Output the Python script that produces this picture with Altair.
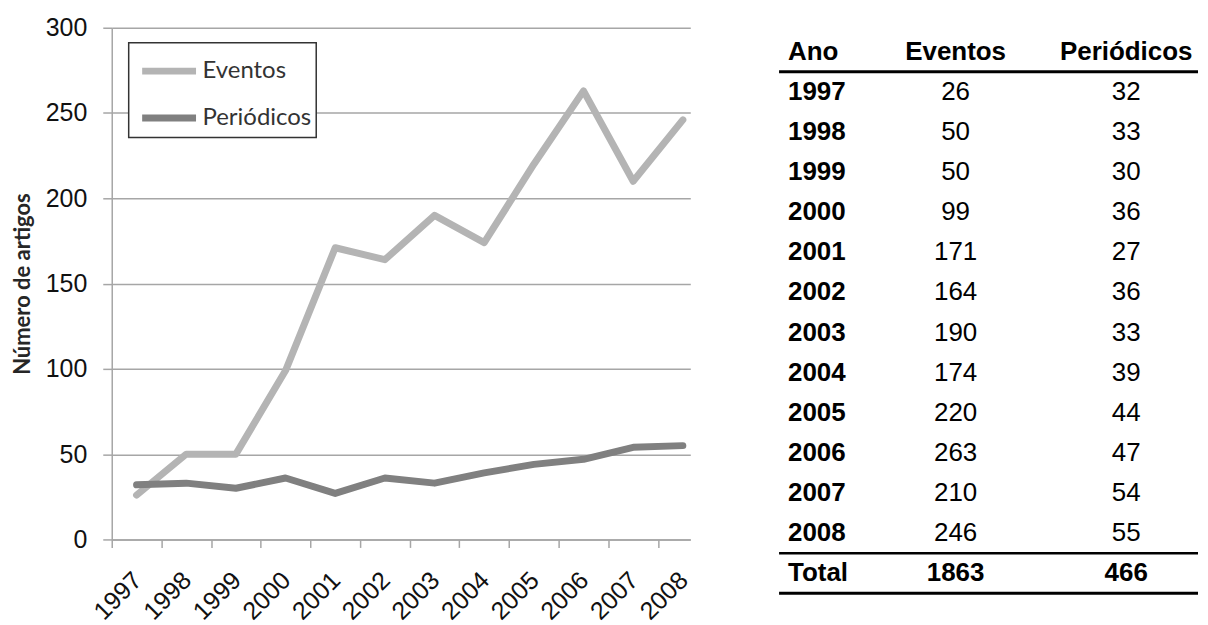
import altair as alt
import pandas as pd

# ---- data ----
years = [1997, 1998, 1999, 2000, 2001, 2002, 2003, 2004, 2005, 2006, 2007, 2008]
eventos = [26, 50, 50, 99, 171, 164, 190, 174, 220, 263, 210, 246]
periodicos = [32, 33, 30, 36, 27, 36, 33, 39, 44, 47, 54, 55]
series_names = ["Eventos", "Periódicos"]
series_colors = ["#b4b4b4", "#808080"]
y_ticks = [0, 50, 100, 150, 200, 250, 300]
y_title = "Número de artigos"
table_columns = ["Ano", "Eventos", "Periódicos"]
total_label = "Total"
total_eventos = 1863
total_periodicos = 466

GRID = "#a6a6a6"
HALF = 580 / 11.65 / 2  # half of one year step in pixels

# ---- line chart ----
long_df = pd.DataFrame({
    "year": years + years,
    "value": eventos + periodicos,
    "series": [series_names[0]] * len(years) + [series_names[1]] * len(years),
})

lines = alt.Chart(long_df).mark_line(
    strokeWidth=7, strokeCap="round", strokeJoin="round"
).encode(
    x=alt.X("year:Q",
            scale=alt.Scale(domain=[1996.5, 2008.15], nice=False, zero=False),
            axis=alt.Axis(values=years, format="d", title=None, grid=False,
                          labelAngle=-45, labelAlign="right", labelBaseline="top",
                          labelOverlap=False,
                          tickOffset=-HALF, labelOffset=HALF - 8,
                          labelPadding=20, tickSize=8,
                          labelFont="Liberation Sans", labelFontSize=25,
                          labelColor="#111111",
                          domainColor=GRID, tickColor=GRID,
                          domainWidth=1.5, tickWidth=1.5)),
    y=alt.Y("value:Q",
            scale=alt.Scale(domain=[0, 300], nice=False, zero=True),
            axis=alt.Axis(values=y_ticks, title=y_title, grid=True,
                          gridColor=GRID, gridWidth=1.5,
                          domainColor=GRID, tickColor=GRID,
                          domainWidth=1.5, tickWidth=1.5, tickSize=9,
                          labelPadding=16, labelFont="Liberation Sans",
                          labelFontSize=25, labelColor="#111111",
                          titleFont="Lato", titleFontSize=22, titleFontWeight="bold",
                          titleColor="#262626", titlePadding=11)),
    color=alt.Color("series:N",
                    scale=alt.Scale(domain=series_names, range=series_colors),
                    legend=alt.Legend(orient="none", legendX=17, legendY=15,
                                      title=None, symbolType="M-1.35,0H1.35",
                                      symbolSize=1600, symbolStrokeWidth=7,
                                      labelFont="Lato", labelFontSize=24,
                                      labelColor="#333333", labelOffset=10,
                                      strokeColor="#333333", fillColor="white",
                                      padding=5, rowPadding=9, symbolOffset=12,
                                      direction="vertical")),
).properties(width=580, height=513)

# ---- table ----
rows = [table_columns[0]] + [str(y) for y in years] + [total_label]
row_scale = alt.Scale(domain=rows, range=[4, 567], paddingInner=0, paddingOuter=0)
col_scale = alt.Scale(domain=table_columns, type="point", range=[6, 348], padding=0)

ano_df = pd.DataFrame({"row": rows, "col": table_columns[0], "text": rows})
head_total_df = pd.DataFrame({
    "row": [table_columns[0], table_columns[0], total_label, total_label],
    "col": [table_columns[1], table_columns[2], table_columns[1], table_columns[2]],
    "text": [table_columns[1], table_columns[2], str(total_eventos), str(total_periodicos)],
})
values_df = pd.DataFrame({
    "row": [str(y) for y in years] * 2,
    "col": [table_columns[1]] * len(years) + [table_columns[2]] * len(years),
    "text": [str(v) for v in eventos] + [str(v) for v in periodicos],
})

X = alt.X("col:N", scale=col_scale, axis=None)
Y = alt.Y("row:N", scale=row_scale, axis=None)

t_ano = alt.Chart(ano_df).mark_text(
    font="Liberation Sans", fontSize=26, fontWeight="bold", align="left",
    baseline="middle", dx=3, color="#000000"
).encode(x=X, y=Y, text="text:N")

t_bold = alt.Chart(head_total_df).mark_text(
    font="Liberation Sans", fontSize=26, fontWeight="bold", align="center",
    baseline="middle", color="#000000"
).encode(x=X, y=Y, text="text:N")

t_vals = alt.Chart(values_df).mark_text(
    font="Liberation Sans", fontSize=26, fontWeight="normal", align="center",
    baseline="middle", color="#000000"
).encode(x=X, y=Y, text="text:N")

rule_top = alt.Chart(pd.DataFrame({"row": [rows[1]]})).mark_rule(
    color="#000000", strokeWidth=3
).encode(y=alt.Y("row:N", scale=row_scale, axis=None, bandPosition=0),
         x=alt.value(0), x2=alt.value("width"))

rule_mid = alt.Chart(pd.DataFrame({"row": [total_label]})).mark_rule(
    color="#000000", strokeWidth=2.5
).encode(y=alt.Y("row:N", scale=row_scale, axis=None, bandPosition=0),
         x=alt.value(0), x2=alt.value("width"))

rule_bot = alt.Chart(pd.DataFrame({"row": [total_label]})).mark_rule(
    color="#000000", strokeWidth=3
).encode(y=alt.Y("row:N", scale=row_scale, axis=None, bandPosition=1),
         x=alt.value(0), x2=alt.value("width"))

table = alt.layer(rule_top, rule_mid, rule_bot, t_ano, t_bold, t_vals).properties(
    width=420, height=567
)

chart = alt.hconcat(lines, table, spacing=89, bounds="flush").properties(
    padding={"left": 3, "top": 7, "right": 0, "bottom": 0}
).configure_view(stroke=None).configure_legend(strokeWidth=1.5)

chart.save("out.html", embed_options={"renderer": "svg", "actions": False})
